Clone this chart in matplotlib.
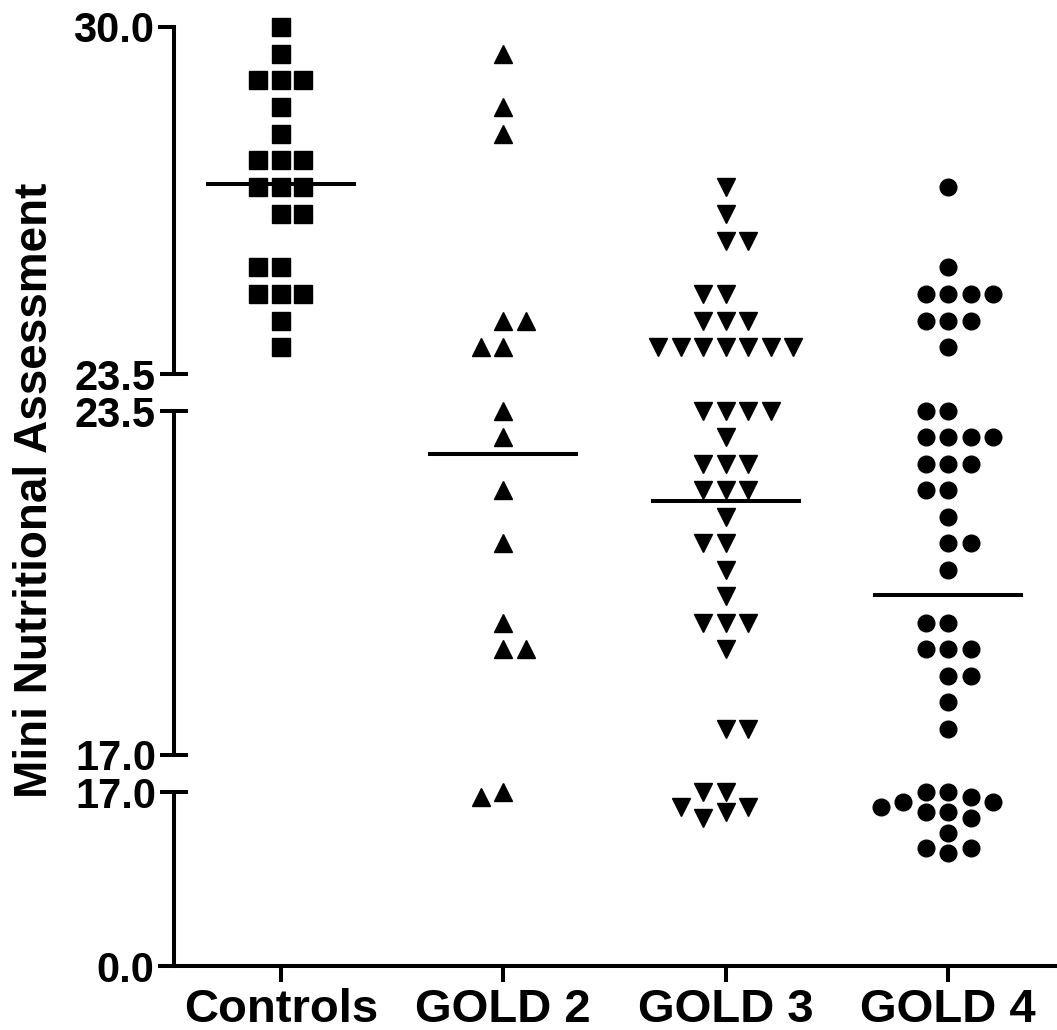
import matplotlib.pyplot as plt
from matplotlib.ticker import FormatStrFormatter

plt.rcParams["font.family"] = ["Liberation Sans", "DejaVu Sans"]
plt.rcParams["font.weight"] = "bold"

groups = ["Controls", "GOLD 2", "GOLD 3", "GOLD 4"]
markers = ["s", "^", "v", "o"]
marker_sizes = [13, 13, 13, 12]

controls = [30, 29.5, 29, 29, 29, 28.5, 28, 27.5, 27.5, 27.5, 27, 27, 27,
            26.5, 26.5, 25.5, 25.5, 25, 25, 25, 24.5, 24]
gold2 = [29.5, 28.5, 28, 24.5, 24.5, 24, 24, 23.5, 23, 22, 21, 19.5, 19, 19,
         17, 16.5]
gold3 = [27, 26.5, 26, 26, 25, 25, 24.5, 24.5, 24.5,
         24, 24, 24, 24, 24, 24, 24,
         23.5, 23.5, 23.5, 23.5, 23, 22.5, 22.5, 22.5, 22, 22, 22, 21.5,
         21, 21, 20.5, 20, 19.5, 19.5, 19.5, 19, 17.5, 17.5,
         17, 17, 15.5, 15.5, 15, 14.5]
gold4 = [27, 25.5, 25, 25, 25, 25, 24.5, 24.5, 24.5, 24,
         23.5, 23.5, 23, 23, 23, 23, 22.5, 22.5, 22.5, 22, 22, 21.5, 21, 21,
         20.5, 19.5, 19.5, 19, 19, 19, 18.5, 18.5, 18, 17.5,
         17, 17, 16.5, 16, 16, 15.5, 15, 15, 14.5, 13, 11.5, 11.5, 11]
group_values = [controls, gold2, gold3, gold4]
group_means = [27.05, 22.68, 21.8, 20.02]

# broken y axis, segments from top to bottom
segments = [(23.5, 30.0), (17.0, 23.5), (0.0, 17.0)]

W, H = 1057, 1030
fig = plt.figure(figsize=(W / 100, H / 100), dpi=100)

# pixel boxes (top, bottom) of the three segments
seg_px = [(27, 374), (411, 755), (792, 966)]
x0, x1 = 174, 1055
lw = 2.9

axes = []
for (lo, hi), (pt, pb) in zip(segments, seg_px):
    ax = fig.add_axes([x0 / W, 1 - pb / H, (x1 - x0) / W, (pb - pt) / H])
    ax.set_facecolor("none")
    ax.set_ylim(lo, hi)
    ax.set_xlim(-0.48, 3.48)
    for s in ["top", "right", "bottom"]:
        ax.spines[s].set_visible(False)
    ax.spines["left"].set_linewidth(lw)
    ax.yaxis.set_major_formatter(FormatStrFormatter("%.1f"))
    ax.yaxis.set_minor_formatter(FormatStrFormatter("%.1f"))
    ax.tick_params(axis="y", which="major", direction="out", length=11.5,
                   width=lw, labelsize=30, pad=3)
    ax.tick_params(axis="y", which="minor", direction="inout", length=20,
                   width=lw, labelsize=30, pad=3)
    axes.append(ax)

top, mid, bot = axes
top.set_yticks([30.0])
top.set_yticks([23.5], minor=True)
mid.set_yticks([])
mid.set_yticks([17.0, 23.5], minor=True)
bot.set_yticks([0.0])
bot.set_yticks([17.0], minor=True)

for ax in (top, mid):
    ax.xaxis.set_visible(False)
bot.spines["bottom"].set_visible(True)
bot.spines["bottom"].set_linewidth(lw)
bot.set_xticks(range(len(groups)))
bot.set_xticklabels(groups)
bot.tick_params(axis="x", direction="out", length=11.5, width=lw,
                labelsize=34, pad=4)


def seg_of(v):
    for k, (lo, hi) in enumerate(segments):
        if v > lo:
            return k
    return len(segments) - 1


def swarm(ys, thr=18):
    # spread points sideways so that markers do not overlap
    placed = []
    side = 1
    for y in ys:
        k = 0
        while True:
            cands = [0] if k == 0 else [side * k, -side * k]
            slot = None
            for c in cands:
                if all(not (s == c and abs(py - y) < thr) for s, py in placed):
                    slot = c
                    break
            if slot is not None:
                if slot != 0:
                    side = -side
                break
            k += 1
        placed.append((slot, y))
    return [s for s, _ in placed]


px_per_unit = bot.transData.transform((1, 0))[0] - bot.transData.transform((0, 0))[0]
step = 22.5 / px_per_unit

for i, (vals, m, ms) in enumerate(zip(group_values, markers, marker_sizes)):
    vals = sorted(vals, reverse=True)
    segs = [seg_of(v) for v in vals]
    ypix = [H - axes[s].transData.transform((0, v))[1] for v, s in zip(vals, segs)]
    slots = swarm(ypix)
    for v, s, sl in zip(vals, segs, slots):
        axes[s].plot(i + sl * step, v, marker=m, color="black", markersize=ms,
                     linestyle="none", clip_on=False)
    mv = group_means[i]
    axes[seg_of(mv)].plot([i - 0.337, i + 0.337], [mv, mv], color="black",
                          linewidth=lw, solid_capstyle="butt", clip_on=False)

fig.text(35 / W, 1 - 490 / H, "Mini Nutritional Assessment", rotation=90,
         ha="center", va="center", fontsize=33, fontweight="bold")

fig.savefig("out.png", dpi=100)
